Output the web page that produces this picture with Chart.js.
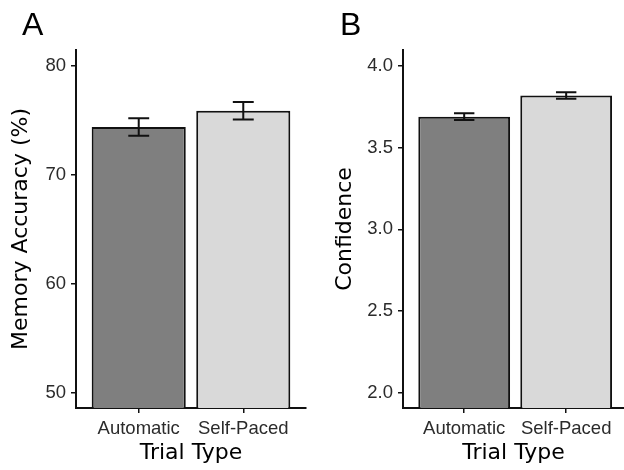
<!DOCTYPE html>
<html>
<head>
<meta charset="utf-8">
<script src="https://cdn.jsdelivr.net/npm/chart.js@4.4.0/dist/chart.umd.min.js"></script>
<style>
  body { margin: 0; background: #fff; }
  #wrap { position: relative; width: 624px; height: 470px; }
  .panel { position: absolute; top: 0; width: 312px; height: 470px; }
  .tag { position: absolute; top: 8px; font: 32px "Liberation Sans", Arial, sans-serif; line-height: 32px; color: #000; }
</style>
</head>
<body>
<div id="wrap">
  <div class="panel" style="left:0"><canvas id="chartA"></canvas></div>
  <div class="panel" style="left:312px"><canvas id="chartB"></canvas></div>
  <div class="tag" style="left:22px">A</div>
  <div class="tag" style="left:340px">B</div>
</div>
<script>
// Data
const trialTypes = ["Automatic", "Self-Paced"];
const barColors = ["#7f7f7f", "#d9d9d9"];
const accuracy = [74.4, 75.9];
const accuracySE = [0.8, 0.8];
const confidence = [3.69, 3.82];
const confidenceSE = [0.02, 0.02];
const accuracyTicks = [50, 60, 70, 80];
const confidenceTicks = [2.0, 2.5, 3.0, 3.5, 4.0];

const tickFont = { family: "'Liberation Sans', Arial, sans-serif", size: 18.5 };
const titleFont = { family: "'DejaVu Sans', sans-serif", size: 22 };

// Error bars drawn from the chart's own scales
const errorBars = {
  id: "errorBars",
  afterDatasetsDraw(chart, args, opts) {
    const ctx = chart.ctx;
    const xs = chart.scales.x;
    const ys = chart.scales.y;
    ctx.save();
    ctx.strokeStyle = "#111";
    ctx.lineWidth = 2;
    chart.data.datasets[0].data.forEach((d, i) => {
      const cx = xs.getPixelForValue(d.x);
      const half = xs.getPixelForValue(d.x + 0.1) - cx;
      const hi = ys.getPixelForValue(d.y + opts.se[i]);
      const lo = ys.getPixelForValue(d.y - opts.se[i]);
      ctx.beginPath();
      ctx.moveTo(cx - half, hi); ctx.lineTo(cx + half, hi);
      ctx.moveTo(cx, hi); ctx.lineTo(cx, lo);
      ctx.moveTo(cx - half, lo); ctx.lineTo(cx + half, lo);
      ctx.stroke();
    });
    ctx.restore();
  }
};

function makeChart(id, values, se, ticks, yTitle, yMin, yMax, xMax, axisWidth, rightPad, titlePad, decimals) {
  return new Chart(document.getElementById(id), {
    type: "bar",
    data: {
      datasets: [{
        data: values.map((v, i) => ({ x: i + 1, y: v })),
        backgroundColor: barColors,
        borderColor: "#111",
        borderWidth: 2,
        borderSkipped: false,
        barPercentage: 0.9,
        categoryPercentage: 1
      }]
    },
    options: {
      responsive: true,
      maintainAspectRatio: false,
      animation: false,
      layout: { padding: { top: 50, right: rightPad, left: 0, bottom: 0 } },
      plugins: {
        legend: { display: false },
        tooltip: { enabled: false },
        errorBars: { se: se }
      },
      scales: {
        x: {
          type: "linear",
          min: 0.4,
          max: xMax,
          offset: false,
          afterBuildTicks: s => { s.ticks = trialTypes.map((t, i) => ({ value: i + 1 })); },
          afterFit: s => { s.height = 62; },
          ticks: {
            font: tickFont,
            color: "#2b2b2b",
            padding: 5,
            maxRotation: 0,
            callback: (v, i) => trialTypes[i]
          },
          grid: { offset: false, drawOnChartArea: false, drawTicks: true, tickLength: 5, color: "#111", lineWidth: 1.5 },
          border: { display: true, color: "#111", width: 2 },
          title: { display: true, text: "Trial Type", font: titleFont, color: "#000", padding: { top: 0, bottom: 4 } }
        },
        y: {
          min: yMin,
          max: yMax,
          afterBuildTicks: s => { s.ticks = ticks.map(v => ({ value: v })); },
          afterFit: s => { s.width = axisWidth; },
          ticks: {
            font: tickFont,
            color: "#2b2b2b",
            padding: 5,
            callback: v => v.toFixed(decimals)
          },
          grid: { drawOnChartArea: false, drawTicks: true, tickLength: 5, color: "#111", lineWidth: 1.5 },
          border: { display: true, color: "#111", width: 2 },
          title: { display: true, text: yTitle, font: titleFont, color: "#000", padding: { top: titlePad, bottom: 0 } }
        }
      }
    },
    plugins: [errorBars]
  });
}

makeChart("chartA", accuracy, accuracySE, accuracyTicks, "Memory Accuracy (%)", 48.6, 81.47, 2.6, 76, 6, 8, 0);
makeChart("chartB", confidence, confidenceSE, confidenceTicks, "Confidence", 1.906, 4.098, 2.567, 91, 0, 20, 1);
</script>
</body>
</html>
